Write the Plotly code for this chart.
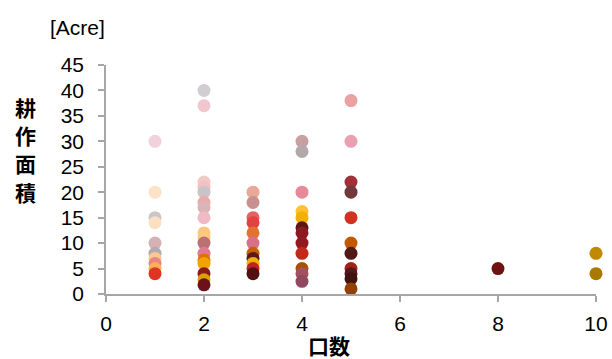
import plotly.graph_objects as go

# Number of units (口数) per household and its cultivated area in acres
units = (
    [1] * 10
    + [2] * 17
    + [3] * 11
    + [4] * 12
    + [5] * 11
    + [8]
    + [10] * 2
)
area_acre = (
    [30, 20, 15, 14, 10, 8, 7, 6, 5, 4]
    + [40, 37, 22, 21, 20, 18, 17, 15, 12, 11, 10, 8, 6.7, 6, 4, 2.8, 1.8]
    + [20, 18, 15, 14, 12, 10, 8, 7, 6, 5, 4]
    + [30, 28, 20, 16.2, 15, 13, 12, 10, 8, 5, 4, 2.5]
    + [38, 30, 22, 20, 15, 10, 8, 5, 4, 3, 1]
    + [5]
    + [8, 4]
)

# One colour per household marker
marker_colors = (
    ["#f1d1da", "#fde1c8", "#c9c5c9", "#fde0c2", "#d5b0b5", "#b2aaae",
     "#fcc88f", "#e98585", "#f8b154", "#e03322"]
    + ["#d2cdd0", "#f1c6cf", "#f0cbc3", "#f2c0c8", "#c9c4c7", "#eda9a9",
       "#d9b5b8", "#f0b9c6", "#fdc67f", "#fdc880", "#b97171", "#e07a91",
       "#e07204", "#f0a302", "#8c1a1c", "#d9a102", "#6c101b"]
    + ["#e9a898", "#c89090", "#e26262", "#e14242", "#e07232", "#d87088",
       "#c96102", "#5a1a1a", "#f0b102", "#c12222", "#511111"]
    + ["#c9a0a2", "#b1a8a9", "#e88999", "#ffc032", "#f2b002", "#5b1819",
       "#8c1a21", "#911922", "#c12919", "#a95102", "#a25062", "#914962"]
    + ["#e9a1a1", "#e9a1b1", "#a13139", "#713939", "#d13221", "#c25902",
       "#521919", "#a22119", "#521919", "#421111", "#914102"]
    + ["#711212"]
    + ["#c18902", "#a97902"]
)

x_ticks = [0, 2, 4, 6, 8, 10]
y_ticks = [0, 5, 10, 15, 20, 25, 30, 35, 40, 45]
y_title_chars = ["耕", "作", "面", "積"]

font_family = "Liberation Sans, Arial, sans-serif"
cjk_bold = "Noto Sans CJK JP, Noto Sans CJK SC, sans-serif"
axis_color = "#a6a6a6"

fig = go.Figure(
    go.Scatter(
        x=units,
        y=area_acre,
        mode="markers",
        marker=dict(size=13, color=marker_colors, line=dict(width=0)),
        cliponaxis=False,
        showlegend=False,
    )
)

fig.update_layout(
    width=612,
    height=359,
    margin=dict(l=106, r=16, t=65, b=65),
    paper_bgcolor="white",
    plot_bgcolor="white",
    font=dict(family=font_family, size=20, color="#000000"),
)

axis_style = dict(
    showgrid=False,
    zeroline=False,
    showline=True,
    linecolor=axis_color,
    linewidth=1.5,
    ticks="outside",
    ticklen=6,
    tickcolor=axis_color,
    tickwidth=1.5,
    tickfont=dict(size=21),
    automargin=False,
)
fig.update_xaxes(range=[0, 10], tickvals=x_ticks, ticklabelstandoff=4, **axis_style)
fig.update_yaxes(range=[0, 45], tickvals=y_ticks, ticklabelstandoff=10, **axis_style)

# Vertical y-axis title, one character per row
for i, ch in enumerate(y_title_chars):
    fig.add_annotation(
        text=f"<b>{ch}</b>",
        xref="paper", yref="paper",
        x=-0.165, y=0.817 - i * 0.1235,
        xanchor="center", yanchor="middle",
        showarrow=False,
        font=dict(family=cjk_bold, size=21, color="#000000"),
    )

# Unit label above the y axis
fig.add_annotation(
    text="[Acre]",
    xref="paper", yref="paper",
    x=-0.118, y=1.162,
    xanchor="left", yanchor="middle",
    showarrow=False,
    font=dict(family=font_family, size=21, color="#000000"),
)

# X-axis title
fig.add_annotation(
    text="<b>口数</b>",
    xref="paper", yref="paper",
    x=0.455, y=-0.222,
    xanchor="center", yanchor="middle",
    showarrow=False,
    font=dict(family=cjk_bold, size=21, color="#000000"),
)

fig.write_html("out.html")
